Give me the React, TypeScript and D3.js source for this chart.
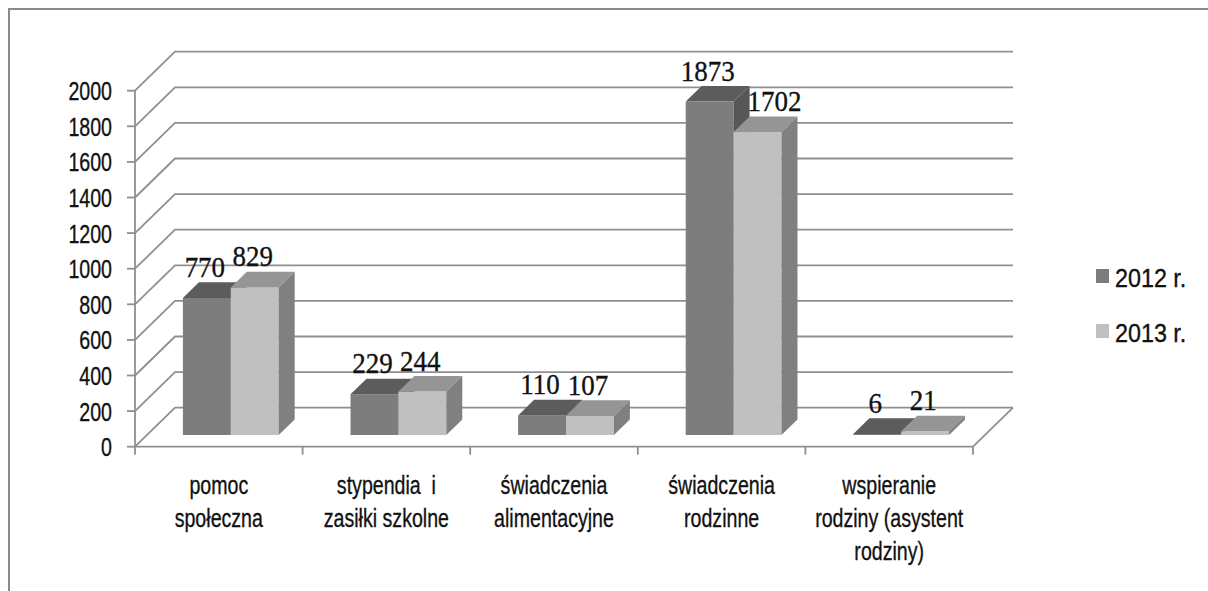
import * as d3 from "d3";

const categories = [
  ["pomoc", "społeczna"],
  ["stypendia  i", "zasiłki szkolne"],
  ["świadczenia", "alimentacyjne"],
  ["świadczenia", "rodzinne"],
  ["wspieranie", "rodziny (asystent", "rodziny)"],
];
const seriesNames = ["2012 r.", "2013 r."];
const values2012 = [770, 229, 110, 1873, 6];
const values2013 = [829, 244, 107, 1702, 21];
const yMax = 2000;

const W = 1208;
const H = 591;
const plotLeft = 135;
const plotRight = 973;
const plotBottom = 446.7;
const plotTop = 90.7;
// oblique depth of the floor / side walls
const depthX = 40;
const depthY = 39;
const barFront = 0.3;
const barDepth = 0.4;

const colors = [
  { front: "#7d7d7d", top: "#5c5c5c", side: "#575757" },
  { front: "#c0c0c0", top: "#959595", side: "#808080" },
];
const gridColor = "#8f8f8f";
const sansFont = "'Liberation Sans', Arial, sans-serif";
const serifFont = "'Liberation Serif', 'Times New Roman', serif";
// the source text is a little heavier than the plain font
const textWeight = { fill: "#111", stroke: "#111", strokeWidth: 0.35 };

export default function App() {
  const series = [values2012, values2013];

  const y = d3.scaleLinear().domain([0, yMax]).range([plotBottom, plotTop]);
  const x = d3
    .scaleBand<number>()
    .domain(categories.map((_, i) => i))
    .range([plotLeft, plotRight]);
  const xs = d3
    .scaleBand<number>()
    .domain(series.map((_, i) => i))
    .range([0, x.bandwidth()])
    .paddingOuter(0.75);

  const ticks = y.ticks(10);
  const fx = barFront * depthX;
  const fy = barFront * depthY;
  const bdx = barDepth * depthX;
  const bdy = barDepth * depthY;
  const w = xs.bandwidth();

  const bars: any[] = [];
  const labels: any[] = [];
  categories.forEach((_, i) => {
    series.forEach((vals, s) => {
      const v = vals[i];
      const xf = (x(i) as number) + (xs(s) as number) + fx;
      const yt = y(v) - fy;
      const yb = y(0) - fy;
      const c = colors[s];
      bars.push(
        <g key={`b${i}-${s}`}>
          <rect x={xf} y={yt} width={w} height={yb - yt} fill={c.front} />
          <polygon
            points={`${xf},${yt} ${xf + w},${yt} ${xf + w + bdx},${yt - bdy} ${xf + bdx},${yt - bdy}`}
            fill={c.top}
          />
          <polygon
            points={`${xf + w},${yt} ${xf + w + bdx},${yt - bdy} ${xf + w + bdx},${yb - bdy} ${xf + w},${yb}`}
            fill={c.side}
          />
        </g>
      );
      // nudge the label right when the bar before it stands taller
      let nudge = -2;
      if (s > 0 && y(v) - y(series[s - 1][i]) > bdy) nudge = bdx + 1;
      labels.push(
        <text
          key={`l${i}-${s}`}
          transform={`translate(${xf + w / 2 + nudge},${yt - 21}) scale(0.93,1)`}
          textAnchor="middle"
          fontFamily={serifFont}
          fontSize={29}
          {...textWeight}
        >
          {v}
        </text>
      );
    });
  });

  return (
    <svg
      width={W}
      height={H}
      style={{ position: "absolute", left: 0, top: 0, background: "#fff" }}
    >
      <rect x={9} y={9} width={W + 50} height={H + 50} fill="none" stroke="#8a8a8a" strokeWidth={2} />

      {/* back wall + side wall gridlines */}
      <g stroke={gridColor} strokeWidth={1.8} fill="none">
        {ticks.map((t) => (
          <polyline
            key={t}
            points={`${plotLeft},${y(t)} ${plotLeft + depthX},${y(t) - depthY} ${plotRight + depthX},${y(t) - depthY}`}
          />
        ))}
        {/* floor */}
        <polyline
          points={`${plotLeft},${plotBottom} ${plotRight},${plotBottom} ${plotRight + depthX},${plotBottom - depthY}`}
        />
        {/* axis */}
        <line x1={plotLeft} x2={plotLeft} y1={plotTop} y2={plotBottom} />
        {ticks.map((t) => (
          <line key={`t${t}`} x1={plotLeft - 8} x2={plotLeft} y1={y(t)} y2={y(t)} />
        ))}
        {d3.range(categories.length + 1).map((i) => {
          const xx = i < categories.length ? (x(i) as number) : plotRight;
          return <line key={`c${i}`} x1={xx} x2={xx} y1={plotBottom} y2={plotBottom + 8} />;
        })}
      </g>

      {bars}
      {labels}

      {/* y tick labels */}
      {ticks.map((t) => (
        <text
          key={`yl${t}`}
          transform={`translate(112,${y(t) + 9.5}) scale(0.74,1)`}
          textAnchor="end"
          fontFamily={sansFont}
          fontSize={26.5}
          {...textWeight}
        >
          {t}
        </text>
      ))}

      {/* category labels */}
      {categories.map((lines, i) => (
        <g key={`cl${i}`}>
          {lines.map((ln, j) => (
            <text
              key={j}
              transform={`translate(${(x(i) as number) + x.bandwidth() / 2},${494 + j * 33}) scale(0.74,1)`}
              textAnchor="middle"
              fontFamily={sansFont}
              fontSize={26.5}
              style={{ whiteSpace: "pre" }}
              {...textWeight}
            >
              {ln}
            </text>
          ))}
        </g>
      ))}

      {/* legend */}
      {seriesNames.map((name, s) => (
        <g key={name} transform={`translate(1096,${269 + s * 55})`}>
          <rect width={13} height={14} fill={colors[s].front} />
          <text
            transform="translate(19,17.5) scale(0.88,1)"
            fontFamily={sansFont}
            fontSize={26.5}
            {...textWeight}
          >
            {name}
          </text>
        </g>
      ))}
    </svg>
  );
}
